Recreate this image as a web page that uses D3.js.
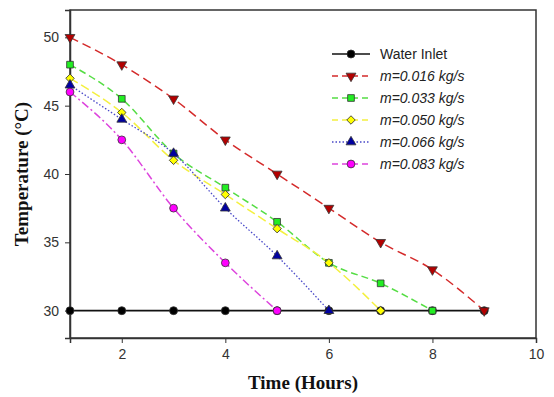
<!DOCTYPE html>
<html>
<head>
<meta charset="utf-8">
<script src="https://cdn.jsdelivr.net/npm/d3@7"></script>
<style>
  body { margin: 0; background: #fff; }
  svg { display: block; }
  .tick text { font-family: Arial, "Liberation Sans", sans-serif; font-size: 14px; fill: #333; }
  .title { font-family: "Times New Roman", "Liberation Serif", serif; font-weight: bold; font-size: 19px; fill: #111; }
  .legend text { font-family: Arial, "Liberation Sans", sans-serif; font-size: 14px; fill: #222; }
</style>
</head>
<body>
<div id="chart"></div>
<script>
// hours
const hours = [1, 2, 3, 4, 5, 6, 7, 8, 9];

// temperatures (°C) per series
const waterInlet = [30, 30, 30, 30, 30, 30, 30, 30, 30];
const m016 = [50, 48, 45.5, 42.5, 40, 37.5, 35, 33, 30];
const m033 = [48, 45.5, 41.5, 39, 36.5, 33.5, 32, 30];
const m050 = [47, 44.5, 41, 38.5, 36, 33.5, 30];
const m066 = [46.5, 44, 41.5, 37.5, 34, 30];
const m083 = [46, 42.5, 37.5, 33.5, 30];

const seriesNames = ["Water Inlet", "m=0.016 kg/s", "m=0.033 kg/s", "m=0.050 kg/s", "m=0.066 kg/s", "m=0.083 kg/s"];
const xTicks = [2, 4, 6, 8, 10];
const yTicks = [30, 35, 40, 45, 50];

const styles = [
  { line: "#111", dash: null, width: 1.6, fill: "#000", symbol: d3.symbolCircle, size: 50, rot: 0 },
  { line: "#d42a2a", dash: "9,5", width: 1.5, fill: "#b30000", symbol: d3.symbolTriangle, size: 42, rot: 180 },
  { line: "#55dd44", dash: "7,4", width: 1.5, fill: "#22ee22", symbol: d3.symbolSquare, size: 45, rot: 0 },
  { line: "#f4f040", dash: "9,4", width: 1.5, fill: "#ffff00", symbol: d3.symbolSquare, size: 36, rot: 45 },
  { line: "#4848c8", dash: "1.5,2", width: 1.3, fill: "#0000a0", symbol: d3.symbolTriangle, size: 42, rot: 0 },
  { line: "#dd44dd", dash: "8,3,2,3", width: 1.5, fill: "#ff00ff", symbol: d3.symbolCircle, size: 48, rot: 0 }
];

const allValues = [waterInlet, m016, m033, m050, m066, m083];
const series = seriesNames.map((name, i) => ({
  name,
  style: styles[i],
  points: allValues[i].map((v, j) => ({ x: hours[j], y: v }))
}));

const W = 554, H = 397;
const margin = { left: 70, top: 10, right: 18, bottom: 59 };

const svg = d3.select("#chart").append("svg")
  .attr("width", W)
  .attr("height", H);

const x = d3.scaleLinear().domain([1, 10]).range([margin.left, W - margin.right]);
const y = d3.scaleLinear().domain([28, 52]).range([H - margin.bottom, margin.top]);

// frame
svg.append("rect")
  .attr("x", x(1)).attr("y", y(52))
  .attr("width", x(10) - x(1)).attr("height", y(28) - y(52))
  .attr("fill", "none").attr("stroke", "#333").attr("stroke-width", 1.5);

const xAxis = svg.append("g")
  .attr("transform", `translate(0,${y(28)})`)
  .call(d3.axisBottom(x).tickValues(xTicks).tickSize(5).tickPadding(6));
const yAxis = svg.append("g")
  .attr("transform", `translate(${x(1)},0)`)
  .call(d3.axisLeft(y).tickValues(yTicks).tickSize(5).tickPadding(6));
[xAxis, yAxis].forEach(a => {
  a.select(".domain").attr("stroke", "#333").attr("stroke-width", 1.5);
  a.selectAll(".tick line").attr("stroke", "#333");
});

const line = d3.line().x(d => x(d.x)).y(d => y(d.y)).curve(d3.curveMonotoneX);

const lines = svg.append("g");
series.forEach(s => {
  lines.append("path")
    .attr("d", line(s.points))
    .attr("fill", "none")
    .attr("stroke", s.style.line)
    .attr("stroke-width", s.style.width)
    .attr("stroke-dasharray", s.style.dash);
});

const marks = svg.append("g");
series.forEach(s => {
  const sym = d3.symbol().type(s.style.symbol).size(s.style.size);
  marks.selectAll(null)
    .data(s.points)
    .join("path")
    .attr("d", sym)
    .attr("transform", d => `translate(${x(d.x)},${y(d.y)}) rotate(${s.style.rot})`)
    .attr("fill", s.style.fill)
    .attr("stroke", "#333")
    .attr("stroke-width", 0.8);
});

// legend
const legend = svg.append("g").attr("class", "legend");
series.forEach((s, i) => {
  const ly = 54 + i * 22;
  const g = legend.append("g").attr("transform", `translate(332,${ly})`);
  g.append("line")
    .attr("x1", 0).attr("x2", 38)
    .attr("stroke", s.style.line)
    .attr("stroke-width", s.style.width)
    .attr("stroke-dasharray", s.style.dash ? (i === 4 ? "1.5,2" : "6,4") : null);
  g.append("path")
    .attr("d", d3.symbol().type(s.style.symbol).size(s.style.size)())
    .attr("transform", `translate(19,0) rotate(${s.style.rot})`)
    .attr("fill", s.style.fill)
    .attr("stroke", "#333")
    .attr("stroke-width", 0.8);
  g.append("text")
    .attr("x", 48).attr("y", 5)
    .style("font-style", i === 0 ? "normal" : "italic")
    .text(s.name);
});

// axis titles
svg.append("text")
  .attr("class", "title")
  .attr("x", x(5.5)).attr("y", 389)
  .attr("text-anchor", "middle")
  .text("Time (Hours)");

svg.append("text")
  .attr("class", "title")
  .attr("transform", `translate(28,${y(40)}) rotate(-90)`)
  .attr("text-anchor", "middle")
  .text("Temperature (°C)");
</script>
</body>
</html>
